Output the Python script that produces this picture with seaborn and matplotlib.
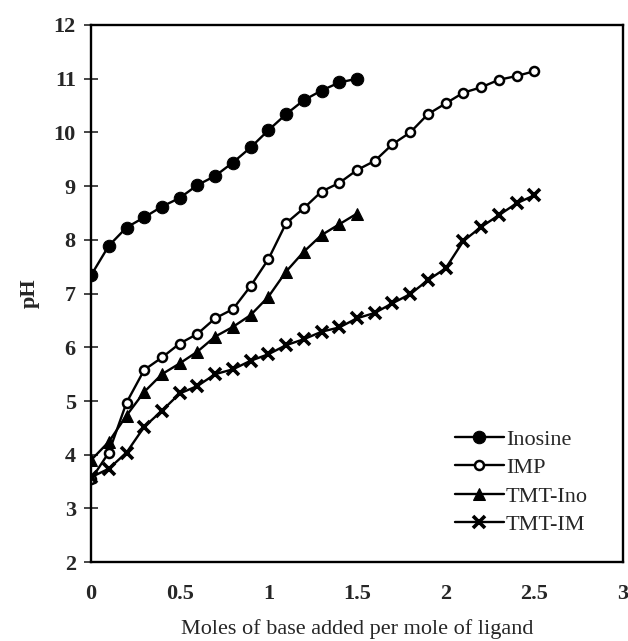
"""
pH titration curves: Inosine, IMP and their TMT complexes
"""

import matplotlib
matplotlib.use('Agg')
import matplotlib.pyplot as plt
import seaborn as sns
import numpy as np
import pandas as pd

base_long = np.round(np.arange(0, 2.51, 0.1), 1)   # 0 .. 2.5
base_short = np.round(np.arange(0, 1.51, 0.1), 1)  # 0 .. 1.5

ph_inosine = [7.34, 7.89, 8.23, 8.42, 8.62, 8.78, 9.02, 9.19, 9.44, 9.72,
              10.04, 10.34, 10.60, 10.78, 10.93, 11.00]
ph_imp = [3.54, 4.04, 4.97, 5.58, 5.81, 6.07, 6.25, 6.54, 6.71, 7.14,
          7.64, 8.31, 8.59, 8.90, 9.06, 9.30, 9.47, 9.78, 10.00, 10.34,
          10.54, 10.74, 10.84, 10.98, 11.05, 11.14]
ph_tmt_ino = [3.90, 4.24, 4.73, 5.17, 5.50, 5.70, 5.92, 6.20, 6.38, 6.60,
              6.94, 7.41, 7.78, 8.09, 8.29, 8.49]
ph_tmt_im = [3.58, 3.74, 4.04, 4.52, 4.82, 5.14, 5.28, 5.50, 5.59, 5.75,
             5.87, 6.04, 6.15, 6.29, 6.37, 6.54, 6.64, 6.82, 6.99, 7.25,
             7.47, 7.98, 8.24, 8.46, 8.68, 8.83]

x_ticks = [0, 0.5, 1, 1.5, 2, 2.5, 3]
x_ticklabels = ['0', '0.5', '1', '1.5', '2', '2.5', '3']
y_ticks = list(range(2, 13))

sns.set_style('white')
plt.rcParams['font.family'] = ['Liberation Serif', 'DejaVu Serif']

fig = plt.figure(figsize=(6.28, 6.41), dpi=100)
ax = fig.add_axes([0.145, 0.123, 0.847, 0.838])

series = [
    ('Inosine', base_short, ph_inosine, dict(marker='o', markersize=9, markerfacecolor='black', markeredgecolor='black')),
    ('IMP', base_long, ph_imp, dict(marker='o', markersize=6.5, markerfacecolor='white', markeredgecolor='black', markeredgewidth=1.8)),
    ('TMT-Ino', base_short, ph_tmt_ino, dict(marker='^', markersize=9, markerfacecolor='black', markeredgecolor='black')),
    ('TMT-IM', base_long, ph_tmt_im, dict(marker='x', markersize=8, markeredgecolor='black', markeredgewidth=2.6)),
]

for name, x, y, style in series:
    df = pd.DataFrame({'base': x, 'pH': y})
    sns.lineplot(data=df, x='base', y='pH', ax=ax, color='black', linewidth=1.7,
                 label=name, **style)

ax.set_xlim(0, 3)
ax.set_ylim(2, 12)
ax.set_xticks(x_ticks)
ax.set_xticklabels(x_ticklabels)
ax.set_yticks(y_ticks)
ax.tick_params(axis='y', direction='inout', length=10, width=1.2, left=True, pad=6, labelsize=16)
ax.tick_params(axis='x', length=0, pad=16, labelsize=16)
for lbl in ax.get_xticklabels() + ax.get_yticklabels():
    lbl.set_fontweight('bold')

for sp in ax.spines.values():
    sp.set_color('black')
    sp.set_linewidth(1.7)

ax.set_xlabel('Moles of base added per mole of ligand', fontsize=16, labelpad=10.5)
ax.set_ylabel('pH', fontsize=16, fontweight='bold', labelpad=10)

ax.legend(loc='lower right', bbox_to_anchor=(0.955, 0.03), frameon=False,
          fontsize=16, handlelength=2.2, handletextpad=0.1, labelspacing=0.35,
          borderpad=0)

plt.savefig('out.png', dpi=100)
